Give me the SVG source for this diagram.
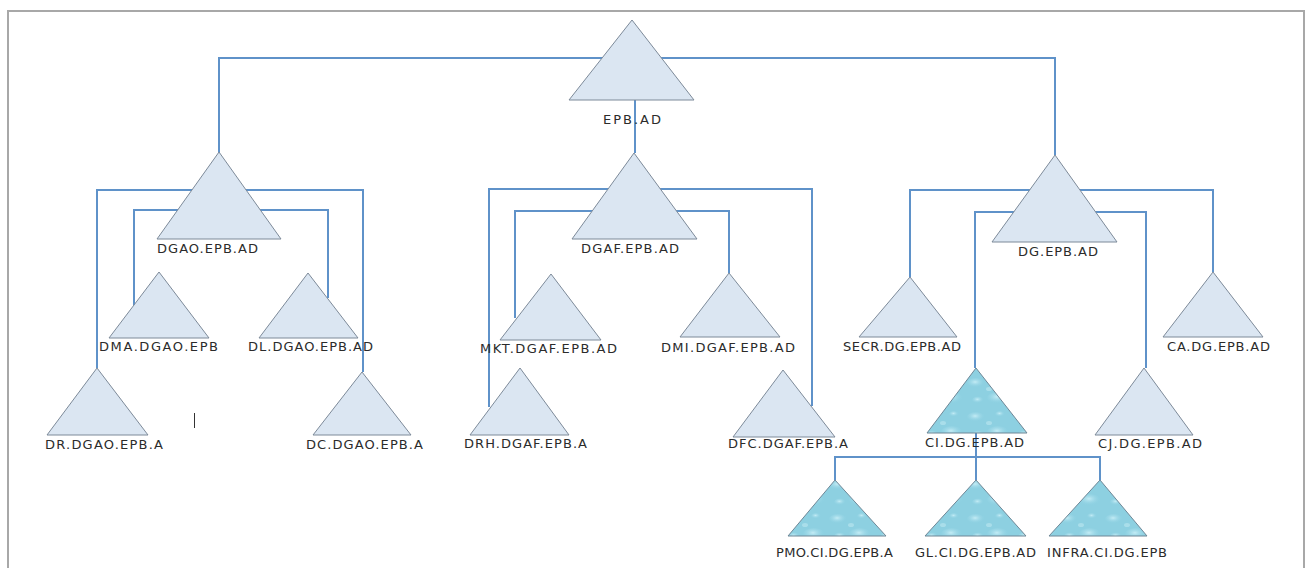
<svg xmlns="http://www.w3.org/2000/svg" width="1311" height="568" viewBox="0 0 1311 568">
<defs>
<style>
.tri{fill:#dbe6f2;stroke:#7d8a99;stroke-width:1}
.wtri{fill:url(#water);stroke:#6f8796;stroke-width:1}
.lbl{font-family:"DejaVu Sans","Liberation Sans",sans-serif;font-size:13px;fill:#2b2b2b;text-anchor:middle}
.con{fill:none;stroke:#5f92c9;stroke-width:2}
</style>
<radialGradient id="bub" cx="0.45" cy="0.4" r="0.6">
<stop offset="0" stop-color="#c4ecf5"/>
<stop offset="1" stop-color="#86cde0" stop-opacity="0"/>
</radialGradient>
<pattern id="water" patternUnits="userSpaceOnUse" width="46" height="34">
<rect width="46" height="34" fill="#8dd0e1"/>
<ellipse cx="10" cy="9" rx="9" ry="5" fill="url(#bub)"/>
<ellipse cx="32" cy="24" rx="11" ry="6" fill="url(#bub)"/>
<ellipse cx="34" cy="6" rx="5" ry="3" fill="url(#bub)"/>
<ellipse cx="12" cy="26" rx="6" ry="3.5" fill="url(#bub)"/>
<ellipse cx="23" cy="15" rx="3" ry="2" fill="#b5e4ef" opacity="0.7"/>
</pattern>
</defs>
<rect x="8" y="11" width="1296" height="600" fill="#fff" stroke="#a8a8a8" stroke-width="2"/>
<g id="connectors">
<path class="con" d="M219,154 V58 H1055 V155"/>
<path class="con" d="M635,100 V153"/>
<path class="con" d="M97,368 V190 H363 V372"/>
<path class="con" d="M134,307 V210 H328 V298"/>
<path class="con" d="M489,407 V189 H812 V406"/>
<path class="con" d="M515,318 V211 H729 V273"/>
<path class="con" d="M910,277 V190 H1213 V272"/>
<path class="con" d="M975,368 V212 H1146 V368"/>
<path class="con" d="M976,433 V480"/>
<path class="con" d="M835,480 V457 H1100 V480"/>
</g>
<g id="n-epb"><polygon class="tri" points="632,20 569,100 694,100"/><text class="lbl" x="632" y="124" textLength="58" lengthAdjust="spacing">EPB.AD</text></g>
<g id="n-dgao"><polygon class="tri" points="219,152 157,239 281,239"/><text class="lbl" x="207.5" y="253" textLength="101" lengthAdjust="spacing">DGAO.EPB.AD</text></g>
<g id="n-dma"><polygon class="tri" points="159,272 109,338 209,338"/><text class="lbl" x="158.5" y="351" textLength="119" lengthAdjust="spacing">DMA.DGAO.EPB</text></g>
<g id="n-dl"><polygon class="tri" points="308,273 259,338 358,338"/><text class="lbl" x="310.5" y="351" textLength="125" lengthAdjust="spacing">DL.DGAO.EPB.AD</text></g>
<g id="n-dr"><polygon class="tri" points="97,368 47,435 148,435"/><text class="lbl" x="104" y="449" textLength="118" lengthAdjust="spacing">DR.DGAO.EPB.A</text></g>
<g id="n-dc"><polygon class="tri" points="362,372 313,435 411,435"/><text class="lbl" x="364.5" y="449" textLength="117" lengthAdjust="spacing">DC.DGAO.EPB.A</text></g>
<g id="n-dgaf"><polygon class="tri" points="634,153 572,239 697,239"/><text class="lbl" x="630" y="253" textLength="98" lengthAdjust="spacing">DGAF.EPB.AD</text></g>
<g id="n-mkt"><polygon class="tri" points="551,274 500,340 601,340"/><text class="lbl" x="548.5" y="353" textLength="137" lengthAdjust="spacing">MKT.DGAF.EPB.AD</text></g>
<g id="n-dmi"><polygon class="tri" points="729,273 680,337 780,337"/><text class="lbl" x="728" y="352" textLength="134" lengthAdjust="spacing">DMI.DGAF.EPB.AD</text></g>
<g id="n-drh"><polygon class="tri" points="520,368 470,435 569,435"/><text class="lbl" x="525.5" y="448" textLength="123" lengthAdjust="spacing">DRH.DGAF.EPB.A</text></g>
<g id="n-dfc"><polygon class="tri" points="783,370 733,437 835,437"/><text class="lbl" x="788" y="448" textLength="120" lengthAdjust="spacing">DFC.DGAF.EPB.A</text></g>
<g id="n-dg"><polygon class="tri" points="1055,155 992,242 1117,242"/><text class="lbl" x="1058" y="256" textLength="80" lengthAdjust="spacing">DG.EPB.AD</text></g>
<g id="n-secr"><polygon class="tri" points="910,277 859,337 957,337"/><text class="lbl" x="902" y="351" textLength="118" lengthAdjust="spacing">SECR.DG.EPB.AD</text></g>
<g id="n-ca"><polygon class="tri" points="1213,272 1163,337 1263,337"/><text class="lbl" x="1218.5" y="351" textLength="103" lengthAdjust="spacing">CA.DG.EPB.AD</text></g>
<g id="n-ci"><polygon class="wtri" points="976,368 927,433 1027,433"/><text class="lbl" x="974.5" y="447" textLength="99" lengthAdjust="spacing">CI.DG.EPB.AD</text></g>
<g id="n-cj"><polygon class="tri" points="1144,368 1095,435 1193,435"/><text class="lbl" x="1150" y="448" textLength="104" lengthAdjust="spacing">CJ.DG.EPB.AD</text></g>
<g id="n-pmo"><polygon class="wtri" points="835,480 788,536 886,536"/><text class="lbl" x="834.5" y="557" textLength="117" lengthAdjust="spacing">PMO.CI.DG.EPB.A</text></g>
<g id="n-gl"><polygon class="wtri" points="976,480 925,536 1026,536"/><text class="lbl" x="975.5" y="557" textLength="121" lengthAdjust="spacing">GL.CI.DG.EPB.AD</text></g>
<g id="n-infra"><polygon class="wtri" points="1100,480 1049,536 1147,536"/><text class="lbl" x="1107" y="557" textLength="120" lengthAdjust="spacing">INFRA.CI.DG.EPB</text></g>
<line x1="194.5" y1="413" x2="194.5" y2="428" stroke="#333" stroke-width="1"/>
</svg>
